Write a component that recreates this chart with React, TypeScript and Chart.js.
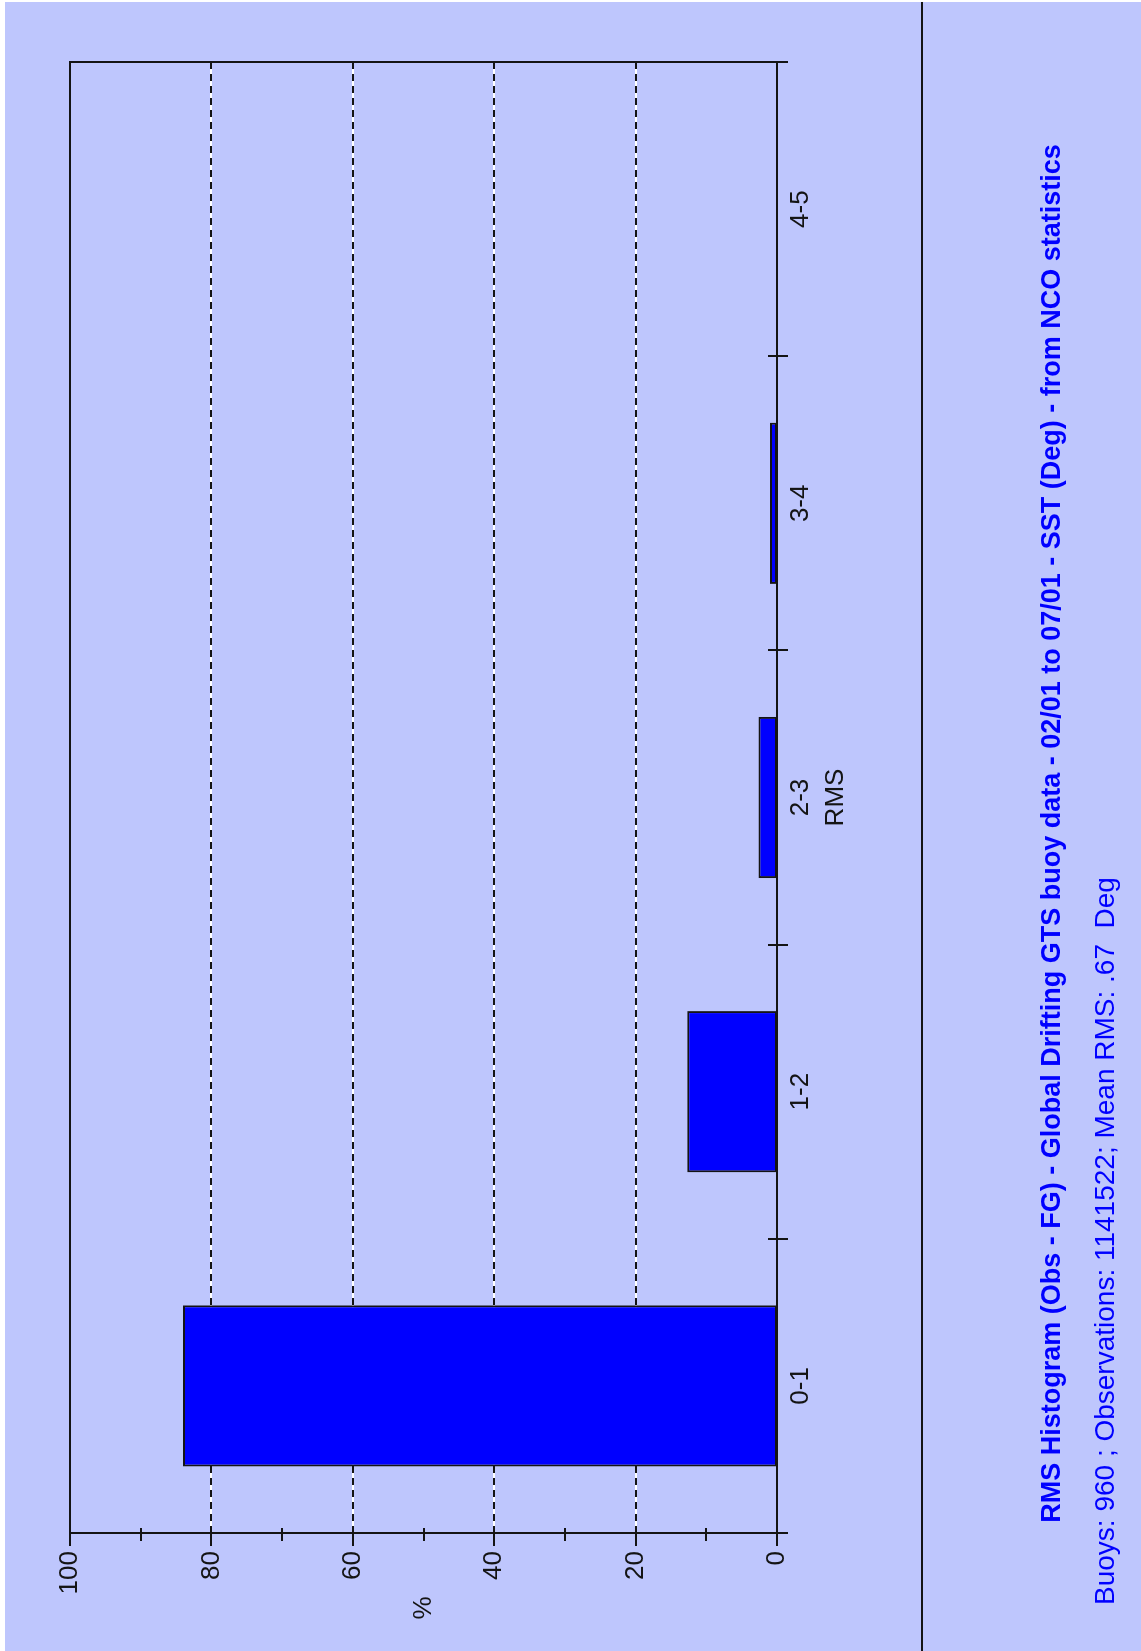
import React, { useEffect, useRef } from 'react';
import { Chart, registerables } from 'chart.js';

Chart.register(...registerables);

// ---- data ----
const categories = ['0-1', '1-2', '2-3', '3-4', '4-5'];
const percentValues = [84.0, 12.7, 2.6, 1.0, 0];
const majorTicks = [0, 20, 40, 60, 80, 100];
const minorTicks = [10, 30, 50, 70, 90];
const gridValues = [20, 40, 60, 80];
const titleText =
  'RMS Histogram (Obs - FG) - Global Drifting GTS buoy data - 02/01 to 07/01 - SST (Deg) - from NCO statistics';
const subtitleText = 'Buoys: 960 ; Observations: 1141522; Mean RMS: .67  Deg';
const xAxisTitle = 'RMS';
const yAxisTitle = '%';

// ---- layout (canvas is drawn unrotated, then turned -90deg onto the page) ----
const CW = 1651;
const CH = 1141;
const LAVENDER = '#BEC6FD';
const INK = '#141414';
const BLUE = '#0000FF';

function hasFont(name: string): boolean {
  try {
    const c = document.createElement('canvas').getContext('2d');
    if (!c) return false;
    const s = '0123456789 RMS-% abcdefgh';
    c.font = '40px monospace';
    const w1 = c.measureText(s).width;
    c.font = `40px "${name}", monospace`;
    const w2 = c.measureText(s).width;
    return Math.abs(w1 - w2) > 0.5;
  } catch (e) {
    return false;
  }
}

export default function App() {
  const ref = useRef<HTMLCanvasElement>(null);

  useEffect(() => {
    document.documentElement.style.overflow = 'hidden';
    document.body.style.margin = '0';
    const canvas = ref.current;
    if (!canvas) return;

    const narrow = hasFont('Liberation Sans Narrow');
    const tickFamily = narrow
      ? '"Liberation Sans Narrow", "Liberation Sans", Arial, sans-serif'
      : '"Liberation Sans", Arial, sans-serif';
    const tickSize = narrow ? 29 : 26;
    const tickFont = { family: tickFamily, size: tickSize, weight: 'normal' as const };
    const textFamily = '"Liberation Sans", Arial, sans-serif';

    const rmsCenter = 836;
    const chartBottom = 777;
    const xAxisHeight = rmsCenter + tickSize * 0.6 - chartBottom;
    const titleCenter = 1053;
    const titlePadTop = titleCenter - (chartBottom + xAxisHeight) - 27 * 0.6;

    const decor = {
      id: 'decor',
      beforeDraw(chart: any) {
        const ctx = chart.ctx as CanvasRenderingContext2D;
        ctx.save();
        ctx.fillStyle = '#ffffff';
        ctx.fillRect(0, 0, CW, CH);
        ctx.fillStyle = LAVENDER;
        ctx.fillRect(0, 5, CW - 2, CH - 5);
        ctx.strokeStyle = INK;
        ctx.lineWidth = 2;
        ctx.beginPath();
        ctx.moveTo(0, 922);
        ctx.lineTo(CW - 2, 922);
        ctx.stroke();
        ctx.restore();
      },
      beforeDatasetsDraw(chart: any) {
        const { ctx, chartArea } = chart;
        const y = chart.scales.y;
        ctx.save();
        for (const g of gridValues) {
          const py = Math.round(y.getPixelForValue(g));
          ctx.lineWidth = 2;
          ctx.setLineDash([]);
          ctx.strokeStyle = '#ffffff';
          ctx.beginPath();
          ctx.moveTo(chartArea.left, py);
          ctx.lineTo(chartArea.right, py);
          ctx.stroke();
          ctx.setLineDash([7, 5]);
          ctx.strokeStyle = INK;
          ctx.beginPath();
          ctx.moveTo(chartArea.left, py);
          ctx.lineTo(chartArea.right, py);
          ctx.stroke();
        }
        ctx.restore();
      },
      afterDatasetsDraw(chart: any) {
        const { ctx, chartArea } = chart;
        const x = chart.scales.x;
        const y = chart.scales.y;
        ctx.save();
        ctx.strokeStyle = INK;
        ctx.lineWidth = 2;
        ctx.setLineDash([]);
        ctx.strokeRect(
          chartArea.left,
          chartArea.top,
          chartArea.right - chartArea.left,
          chartArea.bottom - chartArea.top
        );
        const seg = (x1: number, y1: number, x2: number, y2: number) => {
          ctx.beginPath();
          ctx.moveTo(x1, y1);
          ctx.lineTo(x2, y2);
          ctx.stroke();
        };
        for (const v of majorTicks) {
          const py = Math.round(y.getPixelForValue(v));
          seg(chartArea.left - 13, py, chartArea.left, py);
        }
        for (const v of minorTicks) {
          const py = Math.round(y.getPixelForValue(v));
          seg(chartArea.left - 8, py, chartArea.left + 5, py);
        }
        for (let i = 0; i <= categories.length; i++) {
          const px = Math.round(x.getPixelForValue(i - 0.5));
          seg(px, chartArea.bottom - 9, px, chartArea.bottom + 11);
        }
        ctx.fillStyle = INK;
        ctx.font = `${tickSize}px ${tickFamily}`;
        ctx.textAlign = 'center';
        ctx.textBaseline = 'middle';
        ctx.fillText(yAxisTitle, 43, y.getPixelForValue(50));
        ctx.restore();
      },
    };

    const chart = new Chart(canvas, {
      type: 'bar',
      data: {
        labels: categories,
        datasets: [
          {
            data: percentValues,
            backgroundColor: BLUE,
            borderColor: INK,
            borderWidth: 2,
            borderSkipped: false,
            barPercentage: 0.548,
            categoryPercentage: 1,
          },
        ],
      },
      options: {
        animation: false,
        responsive: false,
        devicePixelRatio: 1,
        layout: {
          padding: { left: 46, right: 62, top: 70, bottom: 18.2 },
          autoPadding: false,
        },
        plugins: {
          legend: { display: false },
          tooltip: { enabled: false },
          title: {
            display: true,
            text: titleText,
            position: 'bottom',
            align: 'center',
            color: BLUE,
            fullSize: true,
            weight: 1000,
            font: { family: textFamily, size: 27, weight: 'bold' },
            padding: { top: titlePadTop, bottom: 0 },
          } as any,
          subtitle: {
            display: true,
            text: subtitleText,
            position: 'bottom',
            align: 'start',
            color: BLUE,
            fullSize: true,
            weight: 2000,
            font: { family: textFamily, size: 28, weight: 'normal' },
            padding: { top: 20, bottom: 0 },
          } as any,
        },
        scales: {
          x: {
            type: 'category',
            grid: { display: false, drawTicks: false },
            border: { display: false },
            ticks: {
              color: INK,
              font: tickFont,
              padding: 8,
              maxRotation: 0,
              minRotation: 0,
              autoSkip: false,
            },
            title: {
              display: true,
              text: xAxisTitle,
              color: INK,
              font: tickFont,
              padding: { top: 0, bottom: 0 },
            },
            afterFit: (s: any) => {
              s.height = xAxisHeight;
            },
          },
          y: {
            type: 'linear',
            min: 0,
            max: 100,
            grid: { display: false, drawTicks: false },
            border: { display: false },
            ticks: {
              stepSize: 20,
              color: INK,
              font: tickFont,
              padding: 18,
            },
            afterFit: (s: any) => {
              s.width = 72;
            },
          },
        },
      },
      plugins: [decor],
    } as any);

    return () => chart.destroy();
  }, []);

  return (
    <div
      style={{
        position: 'absolute',
        left: 0,
        top: 0,
        width: CW,
        height: CH,
        transformOrigin: '0 0',
        transform: `matrix(0, -1, 1, 0, 0, ${CW})`,
      }}
    >
      <canvas
        ref={ref}
        width={CW}
        height={CH}
        style={{ display: 'block', width: CW, height: CH }}
      />
    </div>
  );
}
